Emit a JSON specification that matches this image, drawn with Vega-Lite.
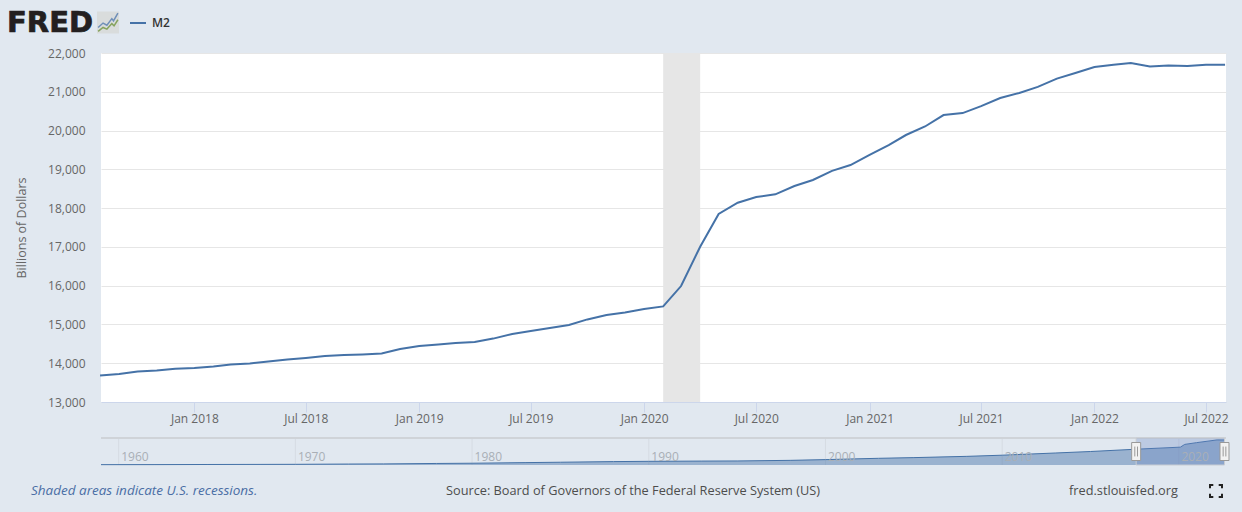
{
"$schema":"https://vega.github.io/schema/vega-lite/v6.json",
"background":"#e1e8f0",
"padding":{"left":7,"top":0,"right":14,"bottom":10},
"bounds":"flush",
"spacing":36,
"config":{"view":{"stroke":null},"font":"Open Sans","text":{"font":"Open Sans"}},
"datasets":{
"m2":[
{"date":"2017-08-01","m2":13683},{"date":"2017-09-01","m2":13720},{"date":"2017-10-01","m2":13785},{"date":"2017-11-01","m2":13810},{"date":"2017-12-01","m2":13860},
{"date":"2018-01-01","m2":13875},{"date":"2018-02-01","m2":13915},{"date":"2018-03-01","m2":13970},{"date":"2018-04-01","m2":13995},{"date":"2018-05-01","m2":14045},{"date":"2018-06-01","m2":14095},{"date":"2018-07-01","m2":14135},{"date":"2018-08-01","m2":14185},{"date":"2018-09-01","m2":14210},{"date":"2018-10-01","m2":14225},{"date":"2018-11-01","m2":14250},{"date":"2018-12-01","m2":14365},
{"date":"2019-01-01","m2":14445},{"date":"2019-02-01","m2":14485},{"date":"2019-03-01","m2":14520},{"date":"2019-04-01","m2":14550},{"date":"2019-05-01","m2":14635},{"date":"2019-06-01","m2":14755},{"date":"2019-07-01","m2":14830},{"date":"2019-08-01","m2":14910},{"date":"2019-09-01","m2":14985},{"date":"2019-10-01","m2":15130},{"date":"2019-11-01","m2":15245},{"date":"2019-12-01","m2":15310},
{"date":"2020-01-01","m2":15400},{"date":"2020-02-01","m2":15465},{"date":"2020-03-01","m2":15990},{"date":"2020-04-01","m2":17005},{"date":"2020-05-01","m2":17850},{"date":"2020-06-01","m2":18140},{"date":"2020-07-01","m2":18285},{"date":"2020-08-01","m2":18355},{"date":"2020-09-01","m2":18570},{"date":"2020-10-01","m2":18725},{"date":"2020-11-01","m2":18960},{"date":"2020-12-01","m2":19110},
{"date":"2021-01-01","m2":19370},{"date":"2021-02-01","m2":19625},{"date":"2021-03-01","m2":19885},{"date":"2021-04-01","m2":20105},{"date":"2021-05-01","m2":20400},{"date":"2021-06-01","m2":20450},{"date":"2021-07-01","m2":20630},{"date":"2021-08-01","m2":20840},{"date":"2021-09-01","m2":20970},{"date":"2021-10-01","m2":21125},{"date":"2021-11-01","m2":21340},{"date":"2021-12-01","m2":21485},
{"date":"2022-01-01","m2":21640},{"date":"2022-02-01","m2":21700},{"date":"2022-03-01","m2":21740},{"date":"2022-04-01","m2":21650},{"date":"2022-05-01","m2":21675},{"date":"2022-06-01","m2":21665},{"date":"2022-07-01","m2":21700},{"date":"2022-08-01","m2":21700}
],
"nav":[
{"date":"1959-01-01","m2":286},{"date":"1962-01-01","m2":333},{"date":"1965-01-01","m2":442},{"date":"1968-01-01","m2":525},{"date":"1970-01-01","m2":590},{"date":"1973-01-01","m2":830},{"date":"1975-01-01","m2":960},{"date":"1978-01-01","m2":1340},{"date":"1980-01-01","m2":1540},{"date":"1983-01-01","m2":2060},{"date":"1985-01-01","m2":2400},{"date":"1988-01-01","m2":2950},{"date":"1990-01-01","m2":3190},{"date":"1993-01-01","m2":3400},{"date":"1995-01-01","m2":3500},{"date":"1998-01-01","m2":4030},{"date":"2000-01-01","m2":4670},{"date":"2003-01-01","m2":5800},{"date":"2005-01-01","m2":6400},{"date":"2008-01-01","m2":7500},{"date":"2010-01-01","m2":8500},{"date":"2013-01-01","m2":10400},{"date":"2015-01-01","m2":11700},{"date":"2017-08-01","m2":13683},{"date":"2020-02-01","m2":15465},{"date":"2020-05-01","m2":17850},{"date":"2021-01-01","m2":19370},{"date":"2022-03-01","m2":21740},{"date":"2022-08-01","m2":21700}
]
},
"vconcat":[
 {"width":1125,"height":17,
  "data":{"values":[{"item":"FRED"}]},
  "encoding":{"y":{"field":"band","type":"nominal","axis":null,"scale":{"domain":["top"],"range":[22.5,22.5],"padding":0}}},
  "layer":[
   {"transform":[{"calculate":"'top'","as":"band"}],
    "mark":{"type":"text","align":"left","baseline":"middle","font":"DejaVu Sans","fontWeight":"bold","fontSize":29,"color":"#231f20","stroke":"#231f20","strokeWidth":0.7,"clip":false},
    "encoding":{"x":{"field":"item","type":"nominal","axis":null,"scale":{"domain":["FRED","icon"],"range":[-94,7],"padding":0}},"text":{"field":"item"}}},
   {"data":{"values":[{"item":"icon","band":"top"}]},
    "mark":{"type":"point","filled":true,"fill":"#d9dcdc","strokeWidth":0,"shape":"M-1,-1H1V1H-1Z","size":484,"opacity":1},
    "encoding":{"x":{"field":"item","type":"nominal"}}},
   {"data":{"values":[{"item":"icon","band":"top"}]},
    "mark":{"type":"point","filled":false,"stroke":"#6f8fb8","strokeWidth":1.5,"shape":"M-0.9,0.45L-0.45,0.05L-0.1,0.25L0.35,-0.35L0.5,-0.15L0.9,-0.85","size":484,"opacity":1},
    "encoding":{"x":{"field":"item","type":"nominal"}}},
   {"data":{"values":[{"item":"icon","band":"top"}]},
    "mark":{"type":"point","filled":false,"stroke":"#86a35e","strokeWidth":1.5,"shape":"M-0.9,0.8L-0.45,0.45L-0.1,0.6L0.35,0.1L0.55,0.3L0.9,-0.25","size":484,"opacity":1},
    "encoding":{"x":{"field":"item","type":"nominal"}}}
  ]},
 {"width":1125,"height":349,
  "layer":[
   {"data":{"values":[{"start":"2020-02-01","end":"2020-04-01"}]},
    "mark":{"type":"rect","color":"#e6e6e6"},
    "encoding":{"x":{"field":"start","type":"temporal"},"x2":{"field":"end"}}},
   {"data":{"name":"m2"},
    "transform":[{"calculate":"'M2'","as":"series"}],
    "mark":{"type":"line","strokeWidth":2,"interpolate":"linear"},
    "encoding":{
     "x":{"field":"date","type":"temporal","title":null,
      "scale":{"type":"utc","domain":["2017-08-02T12:00:00Z","2022-08-02T12:00:00Z"]},
      "axis":{"values":["2018-01-01","2018-07-01","2019-01-01","2019-07-01","2020-01-01","2020-07-01","2021-01-01","2021-07-01","2022-01-01","2022-07-01"],"format":"%b %Y","grid":false,"domainColor":"#ccd6eb","tickColor":"#ccd6eb","tickSize":10,"labelColor":"#666666","labelFontSize":12,"labelFont":"Open Sans","labelPadding":1,"labelFlush":false}},
     "y":{"field":"m2","type":"quantitative","title":"Billions of Dollars",
      "scale":{"domain":[13000,22000],"nice":false},
      "axis":{"values":[13000,14000,15000,16000,17000,18000,19000,20000,21000,22000],"format":",.0f","gridColor":"#e6e6e6","domain":false,"ticks":false,"labelColor":"#666666","labelFontSize":12,"labelFont":"Open Sans","labelPadding":16,"titleColor":"#666666","titleFontSize":12.5,"titleFont":"Open Sans","titleFontWeight":"normal","titlePadding":19}},
     "color":{"field":"series","type":"nominal","scale":{"domain":["M2"],"range":["#4572a7"]},
      "legend":{"title":null,"orient":"none","legendX":28,"legendY":14,"symbolType":"stroke","symbolSize":256,"symbolStrokeWidth":2,"labelFont":"Open Sans","labelFontSize":12,"labelFontWeight":600,"labelColor":"#333333","labelOffset":5}}
    }}
  ],
  "view":{"fill":"#ffffff","stroke":null}},
 {"width":1125,"height":27,
  "data":{"name":"nav"},
  "layer":[
   {"data":{"values":[{"year":"1960-01-01"},{"year":"1970-01-01"},{"year":"1980-01-01"},{"year":"1990-01-01"},{"year":"2000-01-01"},{"year":"2010-01-01"},{"year":"2020-01-01"}]},
    "mark":{"type":"rule","color":"#d5dbe3","strokeWidth":1},
    "encoding":{"x":{"field":"year","type":"temporal"}}},
   {"mark":{"type":"area","color":"#4572a7","opacity":0.45,"line":false},
    "encoding":{
     "x":{"field":"date","type":"temporal","title":null,"scale":{"type":"utc","domain":["1959-01-01","2022-09-01"]},
      "axis":{"values":["1960-01-01","1970-01-01","1980-01-01","1990-01-01","2000-01-01","2010-01-01","2020-01-01"],"format":"%Y","domain":false,"ticks":false,"grid":false,"labelColor":"#a9afb6","labelFontSize":12,"labelFont":"Open Sans","labelAlign":"left","labelOffset":2,"labelPadding":-14,"labelFlush":false,"zindex":1}},
     "y":{"field":"m2","type":"quantitative","axis":null,"scale":{"domain":[0,23400],"nice":false}}}},
   {"mark":{"type":"line","color":"#4572a7","strokeWidth":1},
    "encoding":{"x":{"field":"date","type":"temporal"},"y":{"field":"m2","type":"quantitative"}}},
   {"data":{"values":[{"level":23400}]},
    "mark":{"type":"rule","color":"#cfd3d8","strokeWidth":2},
    "encoding":{"y":{"field":"level","type":"quantitative"}}},
   {"data":{"values":[{"start":"2017-08-01","end":"2022-08-01"}]},
    "mark":{"type":"rect","fill":"#6685c2","fillOpacity":0.3,"stroke":"#c8ccd2","strokeWidth":1},
    "encoding":{"x":{"field":"start","type":"temporal"},"x2":{"field":"end"}}},
   {"data":{"values":[{"edge":"2017-08-01"},{"edge":"2022-08-01"}]},
    "mark":{"type":"point","filled":true,"fill":"#f2f2f2","stroke":"#999999","strokeWidth":1,"opacity":1,"shape":"M-0.5,-1H0.5V1H-0.5Z","size":324},
    "encoding":{"x":{"field":"edge","type":"temporal"}}},
   {"data":{"values":[{"edge":"2017-08-01"},{"edge":"2022-08-01"}]},
    "mark":{"type":"point","filled":false,"stroke":"#999999","strokeWidth":1,"opacity":1,"shape":"M-0.15,-0.55V0.55M0.15,-0.55V0.55","size":324},
    "encoding":{"x":{"field":"edge","type":"temporal"}}}
  ]},
 {"width":1125,"height":1,
  "data":{"values":[
   {"note":"Shaded areas indicate U.S. recessions.","kind":"recession","band":"foot"},
   {"note":"Source: Board of Governors of the Federal Reserve System (US)","kind":"source","band":"foot"},
   {"note":"fred.stlouisfed.org","kind":"site","band":"foot"},
   {"note":"fullscreen","kind":"button","band":"foot"}]},
  "encoding":{"y":{"field":"band","type":"nominal","axis":null,"scale":{"domain":["foot"],"range":[-10,-10],"padding":0}}},
  "resolve":{"scale":{"x":"independent"}},
  "layer":[
   {"transform":[{"filter":"datum.kind==='recession'"}],
    "mark":{"type":"text","align":"left","baseline":"middle","fontStyle":"italic","fontSize":13.5,"color":"#4a6ea5"},
    "encoding":{"x":{"field":"kind","type":"nominal","axis":null,"scale":{"domain":["recession"],"range":[-70,-70],"padding":0}},"text":{"field":"note"}}},
   {"transform":[{"filter":"datum.kind==='source'"}],
    "mark":{"type":"text","align":"left","baseline":"middle","fontSize":12.75,"color":"#4d4d4d"},
    "encoding":{"x":{"field":"kind","type":"nominal","axis":null,"scale":{"domain":["source"],"range":[345,345],"padding":0}},"text":{"field":"note"}}},
   {"transform":[{"filter":"datum.kind==='site'"}],
    "mark":{"type":"text","align":"left","baseline":"middle","fontSize":12.75,"color":"#4d4d4d"},
    "encoding":{"x":{"field":"kind","type":"nominal","axis":null,"scale":{"domain":["site"],"range":[968,968],"padding":0}},"text":{"field":"note"}}},
   {"transform":[{"filter":"datum.kind==='button'"}],
    "mark":{"type":"point","filled":false,"stroke":"#222222","strokeWidth":2,"opacity":1,"shape":"M-1,-0.45V-1H-0.45M0.45,-1H1V-0.45M1,0.45V1H0.45M-0.45,1H-1V0.45","size":144},
    "encoding":{"x":{"field":"kind","type":"nominal","axis":null,"scale":{"domain":["button"],"range":[1115,1115],"padding":0}}}}
  ]}
]
}
